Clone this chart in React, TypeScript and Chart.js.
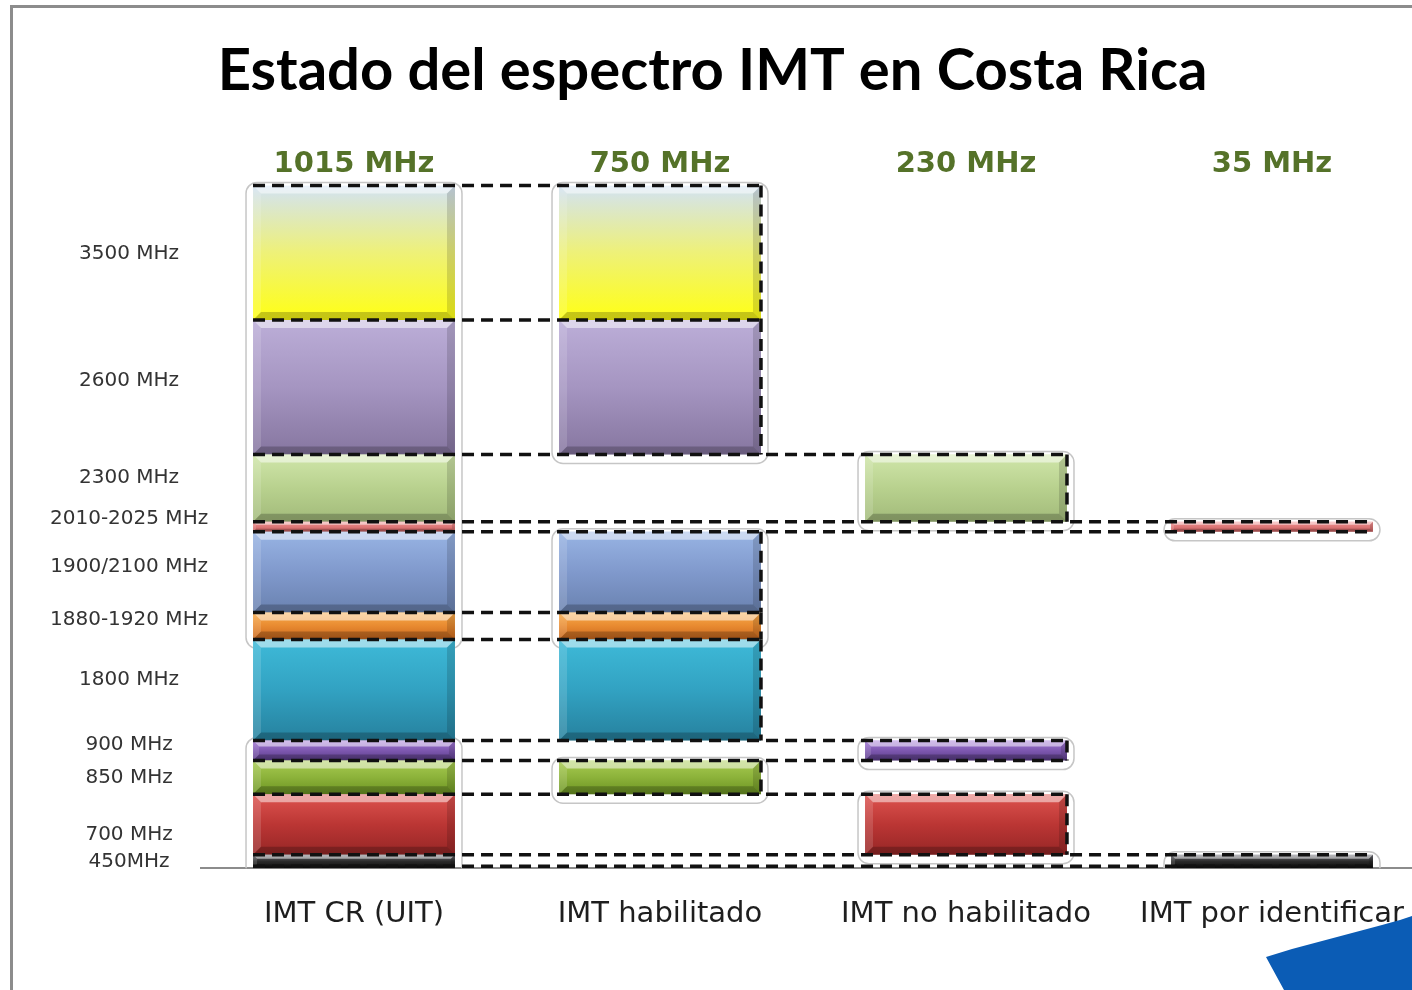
import React, { useEffect, useRef } from 'react';
import { Chart, registerables } from 'chart.js';

Chart.register(...registerables);

// ---------- data ----------
const categories = ['IMT CR (UIT)', 'IMT habilitado', 'IMT no habilitado', 'IMT por identificar'];
const categoryTotals = ['1015 MHz', '750 MHz', '230 MHz', '35 MHz'];
// bands listed bottom -> top
const bandLabels = [
  '450MHz', '700 MHz', '850 MHz', '900 MHz', '1800 MHz', '1880-1920 MHz',
  '1900/2100 MHz', '2010-2025 MHz', '2300 MHz', '2600 MHz', '3500 MHz',
];
const bandWidthsMHz = [20, 90, 50, 30, 150, 40, 120, 15, 100, 200, 200];
// status column (besides the total column 0) where each band also appears
const bandStatusColumn = [3, 2, 1, 2, 1, 1, 1, 3, 2, 1, 1];
// where each band's label sits on the value axis
const bandLabelPositions = [9, 50, 135, 183, 280, 370, 448, 519, 580, 725, 914];
const axisMax = 1015;

// ---------- styles ----------
const bandGradients: string[][] = [
  ['#6a6a72', '#2a2a2a', '#0e0e0e'],
  ['#de5450', '#bb3634', '#962626'],
  ['#a8cc52', '#8cb23a', '#6c9422'],
  ['#a47ad8', '#7e58b0', '#5a3c88'],
  ['#3ebad8', '#32a2c2', '#26819e'],
  ['#f8ac4c', '#e88a30', '#c8661c'],
  ['#98b4e4', '#8099cc', '#6a82b0'],
  ['#f09494', '#de7878', '#c25a5a'],
  ['#d0e6aa', '#b8d18e', '#a2ba7a'],
  ['#bcaed8', '#a595c1', '#8676a0'],
  ['#d2e2f4', '#eef178', '#ffff14'],
];
const bandOutlined = [true, true, true, true, false, true, true, true, true, true, true];

const bandStarts: number[] = [];
{
  let acc = 0;
  for (const w of bandWidthsMHz) {
    bandStarts.push(acc);
    acc += w;
  }
}

const BAR_PCT = 0.66;

function barBox(chart: any, c: number, b: number) {
  const xs = chart.scales.x;
  const ys = chart.scales.y;
  const cx = xs.getPixelForValue(c);
  const step = xs.getPixelForValue(1) - xs.getPixelForValue(0);
  const hw = (step * BAR_PCT) / 2;
  return {
    x0: cx - hw,
    x1: cx + hw,
    y0: ys.getPixelForValue(bandStarts[b] + bandWidthsMHz[b]),
    y1: ys.getPixelForValue(bandStarts[b]),
  };
}

function present(b: number, c: number) {
  return c === 0 || c === bandStatusColumn[b];
}

const decorPlugin = {
  id: 'decor',
  beforeDraw(chart: any) {
    const ctx = chart.ctx;
    ctx.save();
    ctx.fillStyle = '#ffffff';
    ctx.fillRect(0, 0, chart.width, chart.height);
    ctx.fillStyle = '#8c8c8c';
    ctx.fillRect(10, 5, 3, chart.height);
    ctx.fillRect(10, 5, chart.width, 3);
    ctx.restore();
  },
  beforeDatasetsDraw(chart: any) {
    const ctx = chart.ctx;
    const area = chart.chartArea;
    ctx.save();
    ctx.beginPath();
    ctx.rect(0, 0, chart.width, area.bottom);
    ctx.clip();
    ctx.strokeStyle = '#c6c6c6';
    ctx.lineWidth = 1.5;
    for (let c = 0; c < categories.length; c++) {
      const items: number[] = [];
      for (let b = 0; b < bandLabels.length; b++) if (present(b, c) && bandOutlined[b]) items.push(b);
      items.sort((a, d) => bandStarts[a] - bandStarts[d]);
      const groups: number[][] = [];
      for (const b of items) {
        const g = groups[groups.length - 1];
        if (g && bandStarts[g[g.length - 1]] + bandWidthsMHz[g[g.length - 1]] === bandStarts[b]) g.push(b);
        else groups.push([b]);
      }
      for (const g of groups) {
        const lo = barBox(chart, c, g[0]);
        const hi = barBox(chart, c, g[g.length - 1]);
        ctx.beginPath();
        (ctx as any).roundRect(lo.x0 - 7, hi.y0 - 3, lo.x1 - lo.x0 + 14, lo.y1 - hi.y0 + 12, 11);
        ctx.stroke();
      }
    }
    ctx.restore();
  },
  afterDatasetsDraw(chart: any) {
    const ctx = chart.ctx;
    ctx.save();
    // bevels
    for (let b = 0; b < bandLabels.length; b++) {
      for (let c = 0; c < categories.length; c++) {
        if (!present(b, c)) continue;
        const { x0, x1, y0, y1 } = barBox(chart, c, b);
        const h = y1 - y0;
        const k = Math.min(8, h * 0.3);
        const poly = (pts: number[][], fill: string) => {
          ctx.beginPath();
          ctx.moveTo(pts[0][0], pts[0][1]);
          for (let i = 1; i < pts.length; i++) ctx.lineTo(pts[i][0], pts[i][1]);
          ctx.closePath();
          ctx.fillStyle = fill;
          ctx.fill();
        };
        poly([[x0, y0], [x1, y0], [x1 - k, y0 + k], [x0 + k, y0 + k]], 'rgba(255,255,255,0.5)');
        poly([[x0, y1], [x1, y1], [x1 - k, y1 - k], [x0 + k, y1 - k]], 'rgba(0,0,0,0.22)');
        poly([[x0, y0], [x0 + k, y0 + k], [x0 + k, y1 - k], [x0, y1]], 'rgba(255,255,255,0.14)');
        poly([[x1, y0], [x1 - k, y0 + k], [x1 - k, y1 - k], [x1, y1]], 'rgba(0,0,0,0.14)');
      }
    }
    // dashed connectors
    ctx.setLineDash([12, 7]);
    ctx.lineWidth = 3.5;
    ctx.strokeStyle = '#111111';
    const bounds = new Map<number, number>();
    for (let b = 0; b < bandLabels.length; b++) {
      for (let c = 0; c < categories.length; c++) {
        if (!present(b, c)) continue;
        for (const v of [bandStarts[b], bandStarts[b] + bandWidthsMHz[b]]) {
          bounds.set(v, Math.max(bounds.get(v) ?? 0, c));
        }
      }
    }
    const ys = chart.scales.y;
    bounds.forEach((maxC, v) => {
      const left = barBox(chart, 0, 0).x0;
      const right = barBox(chart, maxC, 0).x1;
      const y = Math.min(ys.getPixelForValue(v), chart.chartArea.bottom - 2);
      ctx.beginPath();
      ctx.moveTo(left, y);
      ctx.lineTo(right, y);
      ctx.stroke();
    });
    for (let b = 0; b < bandLabels.length; b++) {
      const c = bandStatusColumn[b];
      if (c >= 3) continue;
      const { x1, y0, y1 } = barBox(chart, c, b);
      ctx.beginPath();
      ctx.moveTo(x1, y0);
      ctx.lineTo(x1, y1);
      ctx.stroke();
    }
    ctx.restore();
  },
  afterDraw(chart: any) {
    const ctx = chart.ctx;
    ctx.save();
    ctx.fillStyle = '#0b5cb5';
    ctx.beginPath();
    const pts = [[1266, 957], [1292, 949], [1322, 941], [1352, 933], [1382, 925], [1400, 920], [1415, 915], [1460, 905], [1460, 990], [1284, 990]];
    ctx.moveTo(pts[0][0], pts[0][1]);
    for (let i = 1; i < pts.length; i++) ctx.lineTo(pts[i][0], pts[i][1]);
    ctx.closePath();
    ctx.fill();
    ctx.restore();
  },
};

export default function App() {
  const ref = useRef<HTMLCanvasElement | null>(null);

  useEffect(() => {
    document.body.style.margin = '0';
    document.body.style.overflow = 'hidden';
    const canvas = ref.current;
    if (!canvas) return;

    const datasets = bandLabels.map((label, b) => ({
      label,
      data: categories.map((_, c) =>
        present(b, c) ? [bandStarts[b], bandStarts[b] + bandWidthsMHz[b]] : null
      ),
      grouped: false,
      barPercentage: BAR_PCT,
      categoryPercentage: 1,
      borderWidth: 0,
      backgroundColor: (ctx: any) => {
        const stops = bandGradients[b];
        const chart = ctx.chart;
        if (!chart.chartArea || !ctx.raw) return stops[1];
        const ys = chart.scales.y;
        const top = ys.getPixelForValue(ctx.raw[1]);
        const bot = ys.getPixelForValue(ctx.raw[0]);
        const g = chart.ctx.createLinearGradient(0, top, 0, bot);
        g.addColorStop(0, stops[0]);
        g.addColorStop(0.5, stops[1]);
        g.addColorStop(1, stops[2]);
        return g;
      },
    }));

    const chart = new Chart(canvas, {
      type: 'bar',
      data: { labels: categories, datasets: datasets as any },
      options: {
        responsive: false,
        animation: false,
        devicePixelRatio: 1,
        events: [],
        layout: { padding: { left: 0, right: 35, top: 0, bottom: 29 } },
        plugins: {
          legend: { display: false },
          tooltip: { enabled: false },
          title: {
            display: true,
            text: 'Estado del espectro IMT en Costa Rica',
            color: '#000000',
            font: { family: 'Lato', size: 58, weight: 'bold' },
            padding: { top: 36, bottom: 37 },
          },
        },
        scales: {
          x: {
            type: 'category',
            position: 'bottom',
            offset: true,
            grid: { display: false, drawTicks: false },
            border: { display: true, color: '#8c8c8c', width: 2 },
            ticks: {
              font: { family: 'DejaVu Sans', size: 29 },
              color: '#1e1e1e',
              padding: 29,
              maxRotation: 0,
              autoSkip: false,
            },
          },
          x2: {
            type: 'category',
            labels: categoryTotals,
            position: 'top',
            offset: true,
            grid: { display: false, drawTicks: false },
            border: { display: false },
            ticks: {
              font: { family: 'DejaVu Sans', size: 29, weight: 'bold' },
              color: '#557229',
              padding: 4,
              maxRotation: 0,
              autoSkip: false,
            },
          },
          y: {
            type: 'linear',
            min: 0,
            max: axisMax,
            grid: { display: false, drawTicks: false },
            border: { display: false },
            afterBuildTicks: (s: any) => {
              s.ticks = bandLabelPositions.map((v) => ({ value: v }));
            },
            afterFit: (s: any) => {
              s.width = 201;
            },
            ticks: {
              autoSkip: false,
              mirror: true,
              crossAlign: 'center',
              padding: -151,
              font: { family: 'DejaVu Sans', size: 20 },
              color: '#333333',
              callback: (_v: any, i: number) => bandLabels[i],
            },
          },
        },
      } as any,
      plugins: [decorPlugin],
    });

    return () => chart.destroy();
  }, []);

  return (
    <div style={{ position: 'fixed', left: 0, top: 0, width: 1412, height: 990, overflow: 'hidden', background: '#ffffff' }}>
      <canvas ref={ref} width={1460} height={990} style={{ display: 'block', width: 1460, height: 990 }} />
    </div>
  );
}
